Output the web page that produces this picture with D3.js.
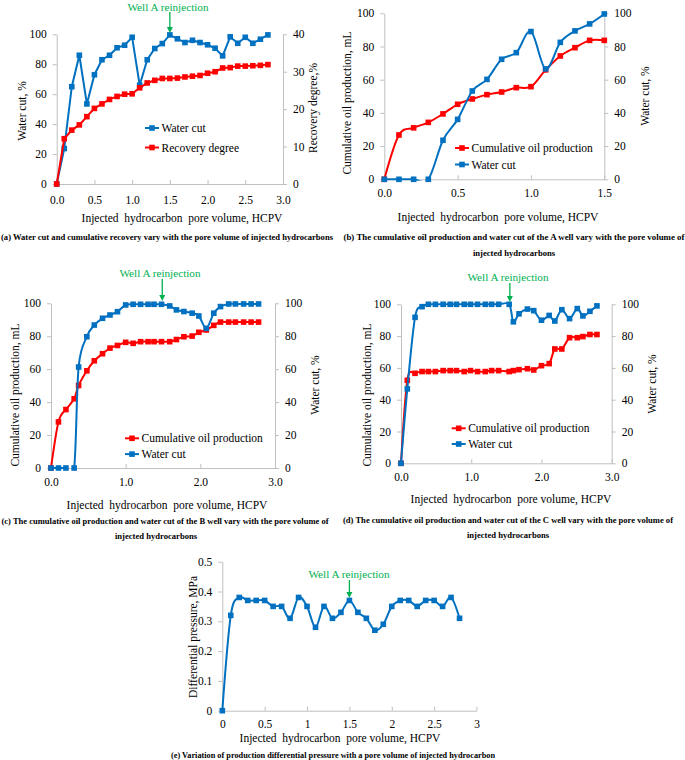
<!DOCTYPE html>
<html><head><meta charset="utf-8">
<script src="https://cdn.jsdelivr.net/npm/d3@7"></script>
<style>
body{margin:0;background:#fff}
svg text{font-family:"Liberation Serif","Times New Roman",Times,serif !important}
</style>
</head><body>
<svg id="c" width="685" height="760" xmlns="http://www.w3.org/2000/svg"></svg>
<script>
// ---------------- DATA ----------------
const A_x = [0,0.1,0.2,0.3,0.4,0.5,0.6,0.7,0.8,0.9,1.0,1.1,1.2,1.3,1.4,1.5,1.6,1.7,1.8,1.9,2.0,2.1,2.2,2.3,2.4,2.5,2.6,2.7,2.8];
const A_water = [0,23.7,65,86,53.5,73,83,86,91,92.7,98,66,83,90.5,93.8,99.6,97,94.5,96,94.5,93,90.7,85.6,98.3,94,98,94,96.7,99.6];
const A_recovery = [0,12.1,14.4,15.8,18,20.2,21.4,22.6,23.4,24,24.1,25.7,27,27.7,28.2,28.2,28.3,28.6,28.8,29,29.6,30,31,31.1,31.5,31.5,31.6,31.7,31.9];

const B_x = [0,0.1,0.2,0.3,0.4,0.5,0.6,0.7,0.8,0.9,1.0,1.1,1.2,1.3,1.4,1.5];
const B_oil = [0,26.7,31,34.3,39.4,45.2,48.4,51,52.6,55.2,55.8,65.9,74.3,79.3,83.7,83.7];
const B_water = [0,0,0,0,23.5,36.1,53.2,60.2,72.3,76.3,89,66.5,82.5,89.4,93.6,99.6];

const C_x = [0,0.1,0.2,0.31,0.37,0.48,0.58,0.69,0.79,0.89,1.0,1.1,1.2,1.3,1.38,1.48,1.59,1.68,1.78,1.89,1.98,2.08,2.18,2.27,2.38,2.47,2.58,2.68,2.78];
const C_oil = [0,28,35.5,42,50.1,59,65.1,69.4,72.8,74.4,76.3,75.7,76.7,76.7,76.7,76.7,76.7,78,79.7,80.1,82.4,83.8,86.6,88.6,88.6,88.6,88.6,88.6,88.6];
const C_water = [0,0,0,0,61.3,79.7,86.8,90.9,92.9,94.9,99,99.4,99.4,99.4,99.4,99.4,98.4,96,95,94,92.3,84.8,94,98,99.6,99.6,99.6,99.6,99.6];

const D_x = [0,0.09,0.2,0.3,0.39,0.49,0.6,0.7,0.79,0.9,0.99,1.09,1.2,1.29,1.39,1.54,1.6,1.68,1.8,1.89,2.0,2.11,2.19,2.29,2.4,2.51,2.59,2.69,2.79];
const D_oil = [0,52.2,56.6,57.7,57.7,57.7,58.3,58.3,58.3,57.7,58.3,57.7,57.7,58.3,58.3,57.7,58.3,58.9,59.5,58.7,61.4,62.7,71.9,71.9,79,79,79.7,81,81];
const D_water = [0,46.8,91.8,98.5,100,100,100,100,100,100,100,100,100,100,100,100,89,94,97,96,90,93,89.5,96.6,91,97.3,92.7,95.6,99];

const E_x = [0,0.1,0.2,0.3,0.4,0.5,0.6,0.7,0.8,0.9,1.0,1.1,1.2,1.3,1.4,1.5,1.6,1.7,1.8,1.9,2.0,2.1,2.2,2.3,2.4,2.5,2.6,2.7,2.8];
const E_dp = [0,0.32,0.38,0.37,0.37,0.37,0.35,0.35,0.31,0.38,0.35,0.28,0.35,0.31,0.33,0.37,0.33,0.31,0.27,0.29,0.35,0.37,0.37,0.35,0.37,0.37,0.35,0.38,0.31];

const xTicksHalf = [0,0.5,1.0,1.5,2.0,2.5,3.0];
const xTicksB = [0,0.5,1.0,1.5];
const xTicksWhole = [0,1.0,2.0,3.0];
const yTicks100 = [0,20,40,60,80,100];
const yTicks40 = [0,10,20,30,40];
const yTicksE = [0,0.1,0.2,0.3,0.4,0.5];

const xTitle = "Injected  hydrocarbon  pore volume, HCPV";
const annText = "Well A reinjection";

// ---------------- DRAW ----------------
const SERIF = "Liberation Serif, Times New Roman, serif";
const BLUE = "#0070C0", RED = "#FF0000", GREEN = "#00B050", AXIS = "#BFBFBF";
const svg = d3.select("#c");
const defs = svg.append("defs");
const FS = 11.5;

function txt(g, s, x, y, opts = {}) {
  const t = g.append("text").attr("x", x).attr("y", y).text(s)
    .attr("font-family", SERIF).attr("font-size", opts.size || FS)
    .attr("fill", opts.fill || "#000")
    .attr("text-anchor", opts.anchor || "middle")
    .style("white-space", "pre");
  if (opts.bold) t.attr("font-weight", "bold");
  if (opts.dy) t.attr("dy", opts.dy);
  if (opts.rotate) t.attr("transform", `rotate(-90,${x},${y})`);
  if (opts.len) t.attr("textLength", opts.len).attr("lengthAdjust", "spacingAndGlyphs");
  return t;
}

function styleAxis(sel) {
  sel.attr("font-family", SERIF).attr("font-size", FS);
  sel.selectAll("path.domain").attr("stroke", AXIS).attr("stroke-width", 1);
  sel.selectAll(".tick line").attr("stroke", AXIS);
  sel.selectAll(".tick text").attr("fill", "#000");
}

function panel(p) {
  const g = svg.append("g");
  const x = d3.scaleLinear().domain(p.xDomain).range(p.xRange);
  const yL = d3.scaleLinear().domain(p.yDomain).range(p.yRange);
  const yR = p.yRDomain ? d3.scaleLinear().domain(p.yRDomain).range(p.yRange) : null;
  const id = "clip" + p.id;
  defs.append("clipPath").attr("id", id).append("rect")
    .attr("x", p.xRange[0] - 2).attr("y", p.yRange[1] - 6)
    .attr("width", p.xRange[1] - p.xRange[0] + 8)
    .attr("height", p.yRange[0] - p.yRange[1] + 7.5);

  g.append("g").attr("transform", `translate(0,${p.yRange[0]})`)
    .call(d3.axisBottom(x).tickValues(p.xTicks).tickFormat(p.xFmt)
      .tickSizeInner(-4).tickSizeOuter(0).tickPadding(p.xPad))
    .call(styleAxis);
  g.append("g").attr("transform", `translate(${p.xRange[0]},0)`)
    .call(d3.axisLeft(yL).tickValues(p.yTicks).tickFormat(p.yFmt)
      .tickSizeInner(4).tickSizeOuter(0).tickPadding(6))
    .call(styleAxis);
  if (yR) {
    g.append("g").attr("transform", `translate(${p.xRange[1]},0)`)
      .call(d3.axisRight(yR).tickValues(p.yRTicks).tickFormat(p.yFmt)
        .tickSizeInner(4).tickSizeOuter(0).tickPadding(6))
      .call(styleAxis);
  }

  p.series.forEach(s => {
    const ys = s.axis === "R" ? yR : yL;
    const pts = s.x.map((v, i) => [x(v), ys(s.y[i])]);
    const line = d3.line().curve(s.smooth ? d3.curveCatmullRom.alpha(0) : d3.curveLinear);
    g.append("path").attr("d", line(pts)).attr("fill", "none")
      .attr("stroke", s.color).attr("stroke-width", 2).attr("clip-path", `url(#${id})`);
    g.append("g").selectAll("rect").data(pts).join("rect")
      .attr("x", d => d[0] - 2.8).attr("y", d => d[1] - 2.8)
      .attr("width", 5.6).attr("height", 5.6).attr("fill", s.color);
  });

  if (p.legend) {
    p.legend.items.forEach((it, i) => {
      const ly = p.legend.y + i * p.legend.dy;
      const x0 = p.legend.x;
      g.append("line").attr("x1", x0).attr("x2", x0 + 14).attr("y1", ly).attr("y2", ly)
        .attr("stroke", it.color).attr("stroke-width", 2);
      g.append("rect").attr("x", x0 + 7 - 2.8).attr("y", ly - 2.8).attr("width", 5.6).attr("height", 5.6).attr("fill", it.color);
      txt(g, it.label, x0 + 16.5, ly, { anchor: "start", dy: "0.35em" });
    });
  }

  if (p.ann) {
    const ax = x(p.ann.at);
    txt(g, annText, p.ann.tx, p.ann.ty, { fill: GREEN, size: 11.2 });
    g.append("line").attr("x1", ax).attr("x2", ax).attr("y1", p.ann.y1).attr("y2", p.ann.y2 - 4)
      .attr("stroke", GREEN).attr("stroke-width", 1.3);
    g.append("path").attr("d", `M${ax - 3},${p.ann.y2 - 6}L${ax + 3},${p.ann.y2 - 6}L${ax},${p.ann.y2}Z`).attr("fill", GREEN);
  }

  txt(g, xTitle, p.xt[0], p.xt[1]);
  txt(g, p.ylTitle, p.ylt[0], p.ylt[1], { rotate: true, dy: "0.35em" });
  if (p.yrTitle) txt(g, p.yrTitle, p.yrt[0], p.yrt[1], { rotate: true, dy: "0.35em" });

  p.captions.forEach(c => txt(g, c.s, c.x, c.y, { bold: true, size: 8.6, len: c.len }));
}

const f1 = d3.format(".1f");
const fInt = d3.format("d");
const fg = d3.format("~g");

panel({
  id: "a", xDomain: [0, 3], xRange: [56.7, 283], yDomain: [0, 100], yRange: [184, 34.3], yRDomain: [0, 40],
  xTicks: xTicksHalf, xFmt: f1, xPad: 11.5, yTicks: yTicks100, yRTicks: yTicks40, yFmt: fInt,
  series: [
    { x: A_x, y: A_water, axis: "L", color: BLUE, smooth: false },
    { x: A_x, y: A_recovery, axis: "R", color: RED, smooth: false }
  ],
  legend: { x: 145, y: 128, dy: 19.5, items: [{ label: "Water cut", color: BLUE }, { label: "Recovery degree", color: RED }] },
  ann: { at: 1.5, tx: 168, ty: 11, y1: 12, y2: 33 },
  xt: [182, 222], ylTitle: "Water cut, %", ylt: [22, 111], yrTitle: "Recovery degree,%", yrt: [313, 108],
  captions: [{ s: "(a) Water cut and cumulative recovery vary with the pore volume of injected hydrocarbons", x: 167, y: 239.5, len: 332 }]
});

panel({
  id: "b", xDomain: [0, 1.5], xRange: [384.3, 604.3], yDomain: [0, 100], yRange: [179.3, 13.3], yRDomain: [0, 100],
  xTicks: xTicksB, xFmt: f1, xPad: 9.5, yTicks: yTicks100, yRTicks: yTicks100, yFmt: fInt,
  series: [
    { x: B_x, y: B_oil, axis: "L", color: RED, smooth: true },
    { x: B_x, y: B_water, axis: "R", color: BLUE, smooth: true }
  ],
  legend: { x: 455, y: 148, dy: 16.5, items: [{ label: "Cumulative oil production", color: RED }, { label: "Water cut", color: BLUE }] },
  xt: [498, 221], ylTitle: "Cumulative oil production, mL", ylt: [347, 103], yrTitle: "Water cut, %", yrt: [645, 96],
  captions: [
    { s: "(b) The cumulative oil production and water cut of the A well vary with the pore volume of", x: 514, y: 240, len: 341 },
    { s: "injected hydrocarbons", x: 514, y: 256 }
  ]
});

panel({
  id: "c", xDomain: [0, 3], xRange: [51, 275], yDomain: [0, 100], yRange: [468, 303.3], yRDomain: [0, 100],
  xTicks: xTicksWhole, xFmt: f1, xPad: 10, yTicks: yTicks100, yRTicks: yTicks100, yFmt: fInt,
  series: [
    { x: C_x, y: C_oil, axis: "L", color: RED, smooth: true },
    { x: C_x, y: C_water, axis: "R", color: BLUE, smooth: true }
  ],
  legend: { x: 125, y: 438.3, dy: 15.8, items: [{ label: "Cumulative oil production", color: RED }, { label: "Water cut", color: BLUE }] },
  ann: { at: 1.49, tx: 160, ty: 277, y1: 279, y2: 301 },
  xt: [167, 509], ylTitle: "Cumulative oil production, mL", ylt: [15, 395], yrTitle: "Water cut, %", yrt: [315, 385],
  captions: [
    { s: "(c) The cumulative oil production and water cut of the B well vary with the pore volume of", x: 165, y: 523.5, len: 327 },
    { s: "injected hydrocarbons", x: 156, y: 538.5 }
  ]
});

panel({
  id: "d", xDomain: [0, 3], xRange: [401, 611.7], yDomain: [0, 100], yRange: [463.3, 304.3], yRDomain: [0, 100],
  xTicks: xTicksWhole, xFmt: f1, xPad: 9.5, yTicks: yTicks100, yRTicks: yTicks100, yFmt: fInt,
  series: [
    { x: D_x, y: D_oil, axis: "L", color: RED, smooth: true },
    { x: D_x, y: D_water, axis: "R", color: BLUE, smooth: true }
  ],
  legend: { x: 451.7, y: 428.3, dy: 15.7, items: [{ label: "Cumulative oil production", color: RED }, { label: "Water cut", color: BLUE }] },
  ann: { at: 1.55, tx: 508, ty: 281, y1: 283, y2: 302 },
  xt: [511, 503], ylTitle: "Cumulative oil production, mL", ylt: [367, 395], yrTitle: "Water cut, %", yrt: [652, 384],
  captions: [
    { s: "(d) The cumulative oil production and water cut of the C well vary with the pore volume of", x: 508, y: 523, len: 330 },
    { s: "injected hydrocarbons", x: 508, y: 538 }
  ]
});

panel({
  id: "e", xDomain: [0, 3], xRange: [222.3, 476.5], yDomain: [0, 0.5], yRange: [710.7, 561.7],
  xTicks: xTicksHalf, xFmt: fg, xPad: 9, yTicks: yTicksE, yFmt: fg,
  series: [
    { x: E_x, y: E_dp, axis: "L", color: BLUE, smooth: true }
  ],
  ann: { at: 1.5, tx: 349, ty: 578, y1: 580, y2: 598 },
  xt: [340, 741.5], ylTitle: "Differential pressure, MPa", ylt: [193, 637],
  captions: [{ s: "(e) Variation of production differential pressure with a pore volume of injected hydrocarbon", x: 333, y: 758, len: 324 }]
});
</script>
</body></html>
